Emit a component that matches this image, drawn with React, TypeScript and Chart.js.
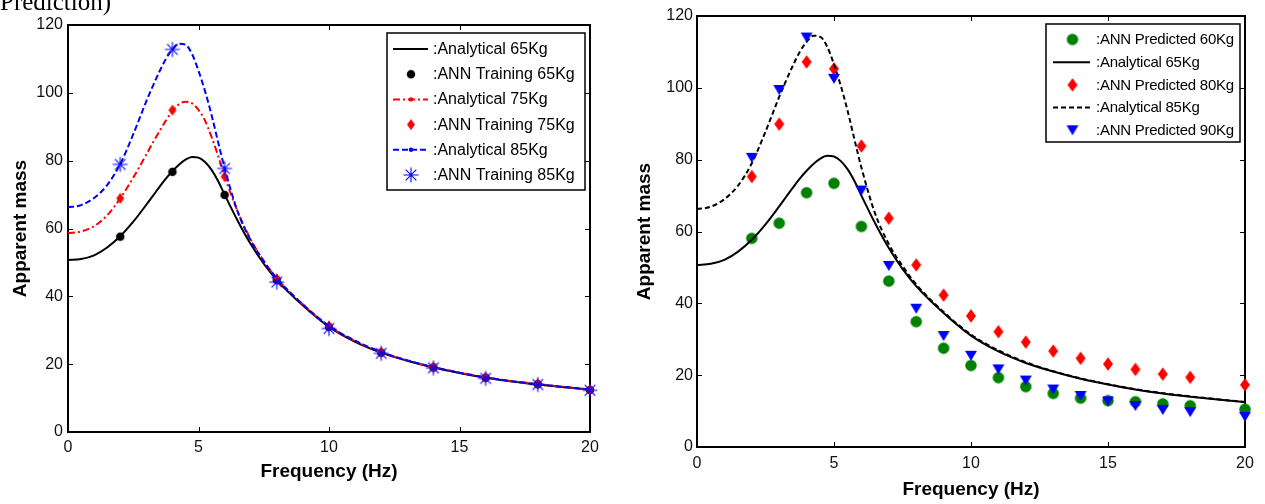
import React, { useEffect, useRef } from "react";
import { Chart, registerables } from "chart.js";

Chart.register(...registerables);

// ---------------- data ----------------
const xTickValues = [0, 5, 10, 15, 20];
const yTickValues = [0, 20, 40, 60, 80, 100, 120];

const freqCurve = [0, 0.5, 1, 1.5, 2, 2.5, 3, 3.25, 3.5, 3.75, 4, 4.25, 4.5, 4.75, 5, 5.25, 5.5, 5.75, 6, 6.5, 7, 7.5, 8, 9, 10, 11, 12, 13, 14, 15, 16, 17, 18, 19, 20];
const analytical65 = [50.7, 51.0, 52.1, 54.4, 57.7, 62.0, 67.0, 69.6, 72.2, 74.7, 76.9, 78.8, 80.3, 81.1, 80.9, 79.6, 77.3, 74.0, 70.0, 62.3, 55.4, 49.6, 44.8, 37.3, 31.0, 26.6, 23.4, 21.0, 19.0, 17.4, 16.0, 14.9, 14.0, 13.2, 12.5];
const analytical75 = [58.6, 59.1, 60.7, 63.9, 68.9, 75.0, 81.8, 85.3, 88.6, 91.8, 94.6, 96.6, 97.4, 96.9, 95.0, 91.8, 87.0, 81.5, 75.4, 65.0, 56.8, 50.4, 45.3, 37.6, 31.2, 26.8, 23.5, 21.1, 19.1, 17.5, 16.1, 15.0, 14.1, 13.3, 12.5];
const analytical85 = [66.2, 66.9, 69.0, 72.8, 79.0, 87.8, 97.5, 102.0, 106.2, 110.0, 112.8, 114.5, 114.2, 111.5, 106.5, 100.5, 93.5, 85.5, 77.8, 65.0, 56.5, 50.4, 45.3, 37.6, 31.3, 26.9, 23.6, 21.1, 19.1, 17.5, 16.1, 15.0, 14.1, 13.3, 12.5];

const freqTrain = [2, 4, 6, 8, 10, 12, 14, 16, 18, 20];
const train65 = [57.6, 76.7, 69.9, 44.8, 31.0, 23.4, 19.0, 16.0, 14.1, 12.4];
const train75 = [68.9, 94.9, 75.3, 45.2, 31.2, 23.5, 19.1, 16.1, 14.2, 12.5];
const train85 = [78.9, 112.8, 77.7, 44.2, 30.5, 23.2, 18.9, 15.8, 14.0, 12.3];

const freqPred = [2, 3, 4, 5, 6, 7, 8, 9, 10, 11, 12, 13, 14, 15, 16, 17, 18, 20];
const pred60 = [58.1, 62.3, 70.8, 73.4, 61.4, 46.2, 34.9, 27.5, 22.7, 19.3, 16.8, 14.9, 13.6, 12.9, 12.6, 12.0, 11.5, 10.5];
const pred80 = [75.3, 89.9, 107.2, 105.3, 83.8, 63.7, 50.7, 42.3, 36.5, 32.1, 29.2, 26.7, 24.7, 23.1, 21.6, 20.3, 19.4, 17.3];
const pred90 = [80.5, 99.4, 114.0, 102.5, 71.4, 50.4, 38.5, 30.9, 25.4, 21.6, 18.5, 16.0, 14.2, 12.7, 11.4, 10.3, 9.7, 8.4];

const leftLabels = [":Analytical 65Kg", ":ANN Training 65Kg", ":Analytical 75Kg", ":ANN Training 75Kg", ":Analytical 85Kg", ":ANN Training 85Kg"];
const rightLabels = [":ANN Predicted 60Kg", ":Analytical 65Kg", ":ANN Predicted 80Kg", ":Analytical 85Kg", ":ANN Predicted 90Kg"];
const xTitleText = "Frequency (Hz)";
const yTitleText = "Apparent mass";
const pageCaption = "Prediction)";

// ---------------- helpers ----------------
const pts = (xs: number[], ys: number[]) => xs.map((x, i) => ({ x, y: ys[i] }));

function makeMarker(kind: string, color: string, w: number, h: number, lw = 1): HTMLCanvasElement {
  const W = 2 * Math.ceil(w / 2 + 2);
  const H = 2 * Math.ceil(h / 2 + 2);
  const c = document.createElement("canvas");
  c.width = W;
  c.height = H;
  const ctx = c.getContext("2d")!;
  const cx = W / 2, cy = H / 2;
  ctx.fillStyle = color;
  ctx.strokeStyle = color;
  ctx.lineWidth = lw;
  ctx.beginPath();
  if (kind === "circle") {
    ctx.ellipse(cx, cy, w / 2, h / 2, 0, 0, Math.PI * 2);
    ctx.fill();
  } else if (kind === "diamond") {
    ctx.moveTo(cx, cy - h / 2);
    ctx.lineTo(cx + w / 2, cy);
    ctx.lineTo(cx, cy + h / 2);
    ctx.lineTo(cx - w / 2, cy);
    ctx.closePath();
    ctx.fill();
  } else if (kind === "triangleDown") {
    ctx.moveTo(cx - w / 2, cy - h / 2);
    ctx.lineTo(cx + w / 2, cy - h / 2);
    ctx.lineTo(cx, cy + h / 2);
    ctx.closePath();
    ctx.fill();
  } else if (kind === "asterisk") {
    const r = w / 2;
    const d = r * Math.SQRT1_2;
    ctx.moveTo(cx - r, cy); ctx.lineTo(cx + r, cy);
    ctx.moveTo(cx, cy - r); ctx.lineTo(cx, cy + r);
    ctx.moveTo(cx - d, cy - d); ctx.lineTo(cx + d, cy + d);
    ctx.moveTo(cx - d, cy + d); ctx.lineTo(cx + d, cy - d);
    ctx.stroke();
  }
  return c;
}

// frame with inward ticks on all four sides (MATLAB style box)
const framePlugin = {
  id: "matFrame",
  beforeDatasetsDraw(chart: any) {
    const { ctx, chartArea: a, scales } = chart;
    ctx.save();
    ctx.strokeStyle = "#000";
    ctx.lineWidth = 1;
    const tl = 5;
    ctx.beginPath();
    scales.x.ticks.forEach((t: any) => {
      const px = Math.round(scales.x.getPixelForValue(t.value)) + 0.5;
      ctx.moveTo(px, a.bottom); ctx.lineTo(px, a.bottom - tl);
      ctx.moveTo(px, a.top); ctx.lineTo(px, a.top + tl);
    });
    scales.y.ticks.forEach((t: any) => {
      const py = Math.round(scales.y.getPixelForValue(t.value)) + 0.5;
      ctx.moveTo(a.left, py); ctx.lineTo(a.left + tl, py);
      ctx.moveTo(a.right, py); ctx.lineTo(a.right - tl, py);
    });
    ctx.stroke();
    ctx.lineWidth = 2;
    ctx.strokeRect(a.left, a.top, a.right - a.left, a.bottom - a.top);
    ctx.restore();
  },
};

// boxed legend inside the plot area
const boxLegendPlugin = {
  id: "boxLegend",
  afterDraw(chart: any, _args: any, o: any) {
    if (!o || !o.box) return;
    const ctx = chart.ctx;
    const b = o.box;
    ctx.save();
    ctx.fillStyle = "#fff";
    ctx.fillRect(b.left, b.top, b.width, b.height);
    ctx.strokeStyle = "#000";
    ctx.lineWidth = 1.5;
    ctx.strokeRect(b.left, b.top, b.width, b.height);
    chart.data.datasets.forEach((ds: any, i: number) => {
      const y = o.firstRowY + i * o.rowStep;
      if (ds.showLine === false) {
        const img = ds.pointStyle as HTMLCanvasElement;
        ctx.drawImage(img, o.markerX - img.width / 2, y - img.height / 2);
      } else {
        ctx.save();
        ctx.strokeStyle = ds.borderColor;
        ctx.lineWidth = ds.borderWidth;
        ctx.setLineDash(ds.borderDash || []);
        ctx.beginPath();
        ctx.moveTo(o.lineX1, y);
        ctx.lineTo(o.lineX2, y);
        ctx.stroke();
        ctx.restore();
        if (o.dots && o.dots[i]) {
          ctx.fillStyle = ds.borderColor;
          ctx.beginPath();
          ctx.arc(o.markerX, y, 2.2, 0, Math.PI * 2);
          ctx.fill();
        }
      }
      ctx.fillStyle = "#000";
      ctx.font = o.font;
      if ("letterSpacing" in ctx) (ctx as any).letterSpacing = o.letterSpacing || "0px";
      ctx.textBaseline = "middle";
      ctx.textAlign = "left";
      ctx.fillText(ds.label, o.textX, y + 0.5);
    });
    ctx.restore();
  },
};

const titleFont = { family: "'Liberation Sans', Arial, sans-serif", size: 19, weight: "bold" as const, lineHeight: 1.2 };
const titleLH = 19 * 1.2;

function baseOptions(cfg: any) {
  const tickFont = { family: "'Liberation Sans', Arial, sans-serif", size: 16 };
  return {
    responsive: false,
    animation: false,
    devicePixelRatio: 1,
    events: [],
    layout: { autoPadding: false, padding: { left: 0, top: cfg.padTop, right: cfg.padRight, bottom: 0 } },
    plugins: {
      legend: { display: false },
      tooltip: { enabled: false },
      boxLegend: cfg.legend,
    },
    scales: {
      x: {
        type: "linear",
        min: 0,
        max: 20,
        afterBuildTicks: (s: any) => { s.ticks = xTickValues.map((v) => ({ value: v })); },
        ticks: { padding: cfg.xTickPad, font: tickFont, color: "#111", maxRotation: 0, autoSkip: false },
        grid: { display: false, drawTicks: false },
        border: { display: false },
        title: { display: true, text: xTitleText, font: titleFont, color: "#000", padding: { top: 0, bottom: cfg.xTitlePad } },
        afterFit: (s: any) => { s.height = cfg.xAxisHeight; },
      },
      y: {
        type: "linear",
        min: 0,
        max: 120,
        afterBuildTicks: (s: any) => { s.ticks = yTickValues.map((v) => ({ value: v })); },
        ticks: { padding: cfg.yTickPad, font: tickFont, color: "#111", autoSkip: false },
        grid: { display: false, drawTicks: false },
        border: { display: false },
        title: { display: true, text: yTitleText, font: titleFont, color: "#000", padding: { top: cfg.yTitlePad, bottom: 0 } },
        afterFit: (s: any) => { s.width = cfg.yAxisWidth; },
      },
    },
  };
}

function buildLeft(): any {
  const dot = makeMarker("circle", "#000", 8.5, 8.5);
  const dia = makeMarker("diamond", "#ff0000", 8, 11);
  const ast = makeMarker("asterisk", "#0000ff", 15, 15, 1.1);
  const n = 6;
  const datasets = [
    { label: leftLabels[0], data: pts(freqCurve, analytical65), borderColor: "#000", borderWidth: 2, borderDash: [], pointRadius: 0, cubicInterpolationMode: "monotone", order: n - 0 },
    { label: leftLabels[1], data: pts(freqTrain, train65), showLine: false, pointStyle: dot, pointRadius: 4, order: n - 1 },
    { label: leftLabels[2], data: pts(freqCurve, analytical75), borderColor: "#ff0000", borderWidth: 2, borderDash: [7, 3, 2, 3], pointRadius: 0, cubicInterpolationMode: "monotone", order: n - 2 },
    { label: leftLabels[3], data: pts(freqTrain, train75), showLine: false, pointStyle: dia, pointRadius: 5, order: n - 3 },
    { label: leftLabels[4], data: pts(freqCurve, analytical85), borderColor: "#0000ff", borderWidth: 2, borderDash: [6, 3], pointRadius: 0, cubicInterpolationMode: "monotone", order: n - 4 },
    { label: leftLabels[5], data: pts(freqTrain, train85), showLine: false, pointStyle: ast, pointRadius: 6, order: n - 5 },
  ].map((d) => ({ ...d, clip: false, fill: false }));
  return {
    type: "line",
    data: { datasets },
    options: baseOptions({
      padTop: 25,
      padRight: 625 - 590,
      xAxisHeight: 504 - 432,
      yAxisWidth: 68,
      xTickPad: 6,
      yTickPad: 5,
      xTitlePad: 32 - titleLH / 2,
      yTitlePad: 21 - titleLH / 2,
      legend: {
        box: { left: 387, top: 33, width: 198, height: 157 },
        firstRowY: 49,
        rowStep: 25.2,
        lineX1: 393,
        lineX2: 428,
        markerX: 411,
        textX: 433,
        font: "16px 'Liberation Sans', Arial, sans-serif",
        dots: [false, false, true, false, true, false],
      },
    }),
    plugins: [framePlugin, boxLegendPlugin],
  };
}

function buildRight(): any {
  const green = makeMarker("circle", "#008000", 11.5, 11.5);
  const dia = makeMarker("diamond", "#ff0000", 10, 13.5);
  const tri = makeMarker("triangleDown", "#0000ff", 12, 10);
  const n = 5;
  const datasets = [
    { label: rightLabels[0], data: pts(freqPred, pred60), showLine: false, pointStyle: green, pointRadius: 5, order: n - 0 },
    { label: rightLabels[1], data: pts(freqCurve, analytical65), borderColor: "#000", borderWidth: 2, borderDash: [], pointRadius: 0, cubicInterpolationMode: "monotone", order: n - 1 },
    { label: rightLabels[2], data: pts(freqPred, pred80), showLine: false, pointStyle: dia, pointRadius: 6, order: n - 2 },
    { label: rightLabels[3], data: pts(freqCurve, analytical85), borderColor: "#000", borderWidth: 2, borderDash: [5, 3], pointRadius: 0, cubicInterpolationMode: "monotone", order: n - 3 },
    { label: rightLabels[4], data: pts(freqPred, pred90), showLine: false, pointStyle: tri, pointRadius: 5, order: n - 4 },
  ].map((d) => ({ ...d, clip: false, fill: false }));
  return {
    type: "line",
    data: { datasets },
    options: baseOptions({
      padTop: 16,
      padRight: 20,
      xAxisHeight: 504 - 447,
      yAxisWidth: 72,
      xTickPad: 7,
      yTickPad: 4,
      xTitlePad: Math.max(0, 14 - titleLH / 2),
      yTitlePad: 20 - titleLH / 2,
      legend: {
        box: { left: 1046 - 625, top: 24, width: 194, height: 118 },
        firstRowY: 39.5,
        rowStep: 22.7,
        lineX1: 1053 - 625,
        lineX2: 1090 - 625,
        markerX: 1072.5 - 625,
        textX: 1096 - 625,
        font: "15px 'Liberation Sans', Arial, sans-serif",
        letterSpacing: "-0.25px",
      },
    }),
    plugins: [framePlugin, boxLegendPlugin],
  };
}

function ChartPanel({ left, width, build }: { left: number; width: number; build: () => any }) {
  const ref = useRef<HTMLCanvasElement>(null);
  useEffect(() => {
    if (!ref.current) return;
    const chart = new Chart(ref.current, build());
    return () => chart.destroy();
  }, []);
  return (
    <canvas
      ref={ref}
      width={width}
      height={504}
      style={{ position: "absolute", left, top: 0, width, height: 504, display: "block" }}
    />
  );
}

export default function App() {
  return (
    <div style={{ position: "absolute", left: 0, top: 0, width: 1265, height: 504, overflow: "hidden", background: "#fff" }}>
      <ChartPanel left={0} width={625} build={buildLeft} />
      <ChartPanel left={625} width={640} build={buildRight} />
      <div
        style={{
          position: "absolute",
          left: 0,
          top: -11,
          fontFamily: "'Liberation Serif', 'Times New Roman', serif",
          fontSize: 25,
          lineHeight: "25px",
          color: "#000",
          whiteSpace: "nowrap",
        }}
      >
        {pageCaption}
      </div>
    </div>
  );
}
